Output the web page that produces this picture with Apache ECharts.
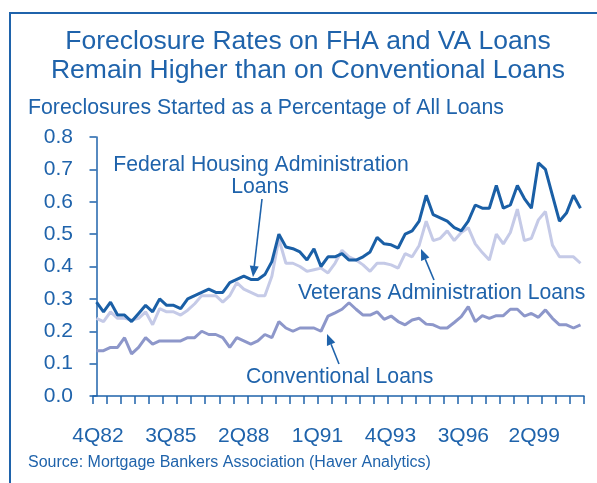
<!DOCTYPE html>
<html>
<head>
<meta charset="utf-8">
<script src="https://cdn.jsdelivr.net/npm/echarts@6/dist/echarts.min.js"></script>
<style>
html,body{margin:0;padding:0;background:#fff;}
#chart{width:597px;height:483px;}
</style>
</head>
<body>
<div id="chart"></div>
<script>
// ---- data ----
const fhaLoans = [0.29,0.26,0.29,0.25,0.25,0.23,0.255,0.28,0.26,0.30,
  0.28,0.28,0.27,0.30,0.31,0.32,0.33,0.32,0.32,0.35,
  0.36,0.37,0.36,0.36,0.375,0.415,0.50,0.46,0.455,0.445,
  0.42,0.455,0.40,0.43,0.43,0.44,0.42,0.42,0.43,0.445,
  0.49,0.47,0.467,0.457,0.50,0.51,0.54,0.62,0.56,0.55,
  0.54,0.52,0.51,0.54,0.59,0.58,0.58,0.65,0.58,0.59,
  0.65,0.61,0.58,0.72,0.70,0.62,0.54,0.565,0.62,0.58];
const vaLoans = [0.24,0.23,0.26,0.24,0.24,0.235,0.24,0.26,0.22,0.27,
  0.26,0.26,0.25,0.265,0.285,0.31,0.31,0.31,0.29,0.31,
  0.35,0.33,0.32,0.31,0.31,0.37,0.485,0.41,0.41,0.40,
  0.385,0.39,0.395,0.38,0.41,0.45,0.43,0.42,0.405,0.385,
  0.41,0.41,0.405,0.395,0.44,0.43,0.465,0.54,0.48,0.487,
  0.51,0.48,0.505,0.52,0.47,0.443,0.42,0.50,0.47,0.505,
  0.577,0.48,0.487,0.544,0.57,0.466,0.43,0.43,0.43,0.41];
const conventionalLoans = [0.14,0.14,0.15,0.15,0.18,0.13,0.15,0.18,0.16,0.17,
  0.17,0.17,0.17,0.18,0.18,0.20,0.19,0.19,0.18,0.15,
  0.18,0.17,0.16,0.17,0.19,0.18,0.23,0.21,0.20,0.21,
  0.21,0.21,0.20,0.247,0.257,0.268,0.288,0.268,0.25,0.25,
  0.26,0.237,0.247,0.23,0.22,0.235,0.24,0.222,0.22,0.21,
  0.21,0.227,0.245,0.276,0.23,0.248,0.24,0.248,0.248,0.268,
  0.268,0.247,0.255,0.243,0.266,0.24,0.22,0.22,0.21,0.22];
const tickLabels = ['4Q82','3Q85','2Q88','1Q91','4Q93','3Q96','2Q99'];
const tickLabelSlots = [0.2,10.6,21.0,31.5,41.9,52.3,62.4];
const categories = fhaLoans.map((_, i) => 'P' + i);

// ---- styles ----
const BLUE = '#1f63ab';
const FONT = '"Liberation Sans", Arial, Helvetica, sans-serif';
const tickSlots = [];
for (let k = -0.5; k <= categories.length - 0.5; k += 2) tickSlots.push(k);

function arrow(x1, y1, x2, y2) {
  const dx = x2 - x1, dy = y2 - y1, L = Math.hypot(dx, dy);
  const ux = dx / L, uy = dy / L, hl = 11, hw = 4.5;
  const bx = x2 - ux * hl, by = y2 - uy * hl;
  return [
    { type: 'line', shape: { x1, y1, x2: bx, y2: by }, style: { stroke: BLUE, lineWidth: 1.6 } },
    { type: 'polygon', shape: { points: [[x2, y2], [bx - uy * hw, by + ux * hw], [bx + uy * hw, by - ux * hw]] },
      style: { fill: BLUE } }
  ];
}
function txt(x, y, text, size, align) {
  return { type: 'text', x, y, style: { text, fill: BLUE, font: size + 'px ' + FONT,
    align: align || 'center', textAlign: align || 'center', verticalAlign: 'middle', textVerticalAlign: 'middle' } };
}

const chart = echarts.init(document.getElementById('chart'), null, { renderer: 'canvas' });
chart.setOption({
  animation: false,
  backgroundColor: '#fff',
  textStyle: { fontFamily: FONT },
  grid: { left: 93, right: 13, top: 137, bottom: 87, containLabel: false },
  xAxis: [{
    type: 'category', data: categories, boundaryGap: true,
    axisLine: { show: true, lineStyle: { color: BLUE, width: 1.5 } },
    axisTick: { show: false }, axisLabel: { show: false }, splitLine: { show: false }
  }, {
    type: 'value', min: -0.5, max: categories.length - 0.5, position: 'bottom',
    axisLine: { show: false }, splitLine: { show: false },
    axisTick: { show: true, inside: false, length: 8, customValues: tickSlots, lineStyle: { color: BLUE, width: 1.5 } },
    axisLabel: { show: true, customValues: tickLabelSlots, margin: 30, color: BLUE, fontSize: 21, fontFamily: FONT,
      formatter: v => { const j = tickLabelSlots.findIndex(p => Math.abs(p - v) < 1e-6); return j >= 0 ? tickLabels[j] : ''; } }
  }],
  yAxis: {
    type: 'value', min: 0, max: 0.8, interval: 0.1,
    axisLine: { show: true, lineStyle: { color: BLUE, width: 1.5 } },
    axisTick: { show: true, inside: false, length: 7, lineStyle: { color: BLUE, width: 1.5 } },
    axisLabel: { color: BLUE, fontSize: 21, fontFamily: FONT, margin: 20, formatter: v => v.toFixed(1) },
    splitLine: { show: false }
  },
  series: [
    { name: 'Veterans Administration Loans', type: 'line', data: vaLoans, symbol: 'none',
      lineStyle: { color: '#c5cae7', width: 3 }, z: 2 },
    { name: 'Conventional Loans', type: 'line', data: conventionalLoans, symbol: 'none',
      lineStyle: { color: '#8d97ca', width: 3 }, z: 3 },
    { name: 'Federal Housing Administration Loans', type: 'line', data: fhaLoans, symbol: 'none',
      lineStyle: { color: '#1a5fa6', width: 3 }, z: 4 }
  ],
  graphic: [
    { type: 'polyline', shape: { points: [[10, 483], [10, 13], [597, 13]] }, style: { stroke: BLUE, lineWidth: 2, fill: null } },
    txt(308, 42, 'Foreclosure Rates on FHA and VA Loans', 26.5),
    txt(308, 71, 'Remain Higher than on Conventional Loans', 26.5),
    txt(28, 108, 'Foreclosures Started as a Percentage of All Loans', 21.3, 'left'),
    txt(261, 165, 'Federal Housing Administration', 21.2),
    txt(260, 187, 'Loans', 21.2),
    txt(298, 293, 'Veterans Administration Loans', 21.2, 'left'),
    txt(246, 377, 'Conventional Loans', 21.2, 'left'),
    txt(28, 463, 'Source: Mortgage Bankers Association (Haver Analytics)', 16, 'left'),
    ...arrow(262, 199, 253, 277),
    ...arrow(434, 280, 421, 249),
    ...arrow(339, 364, 327, 334)
  ]
});
</script>
</body>
</html>
